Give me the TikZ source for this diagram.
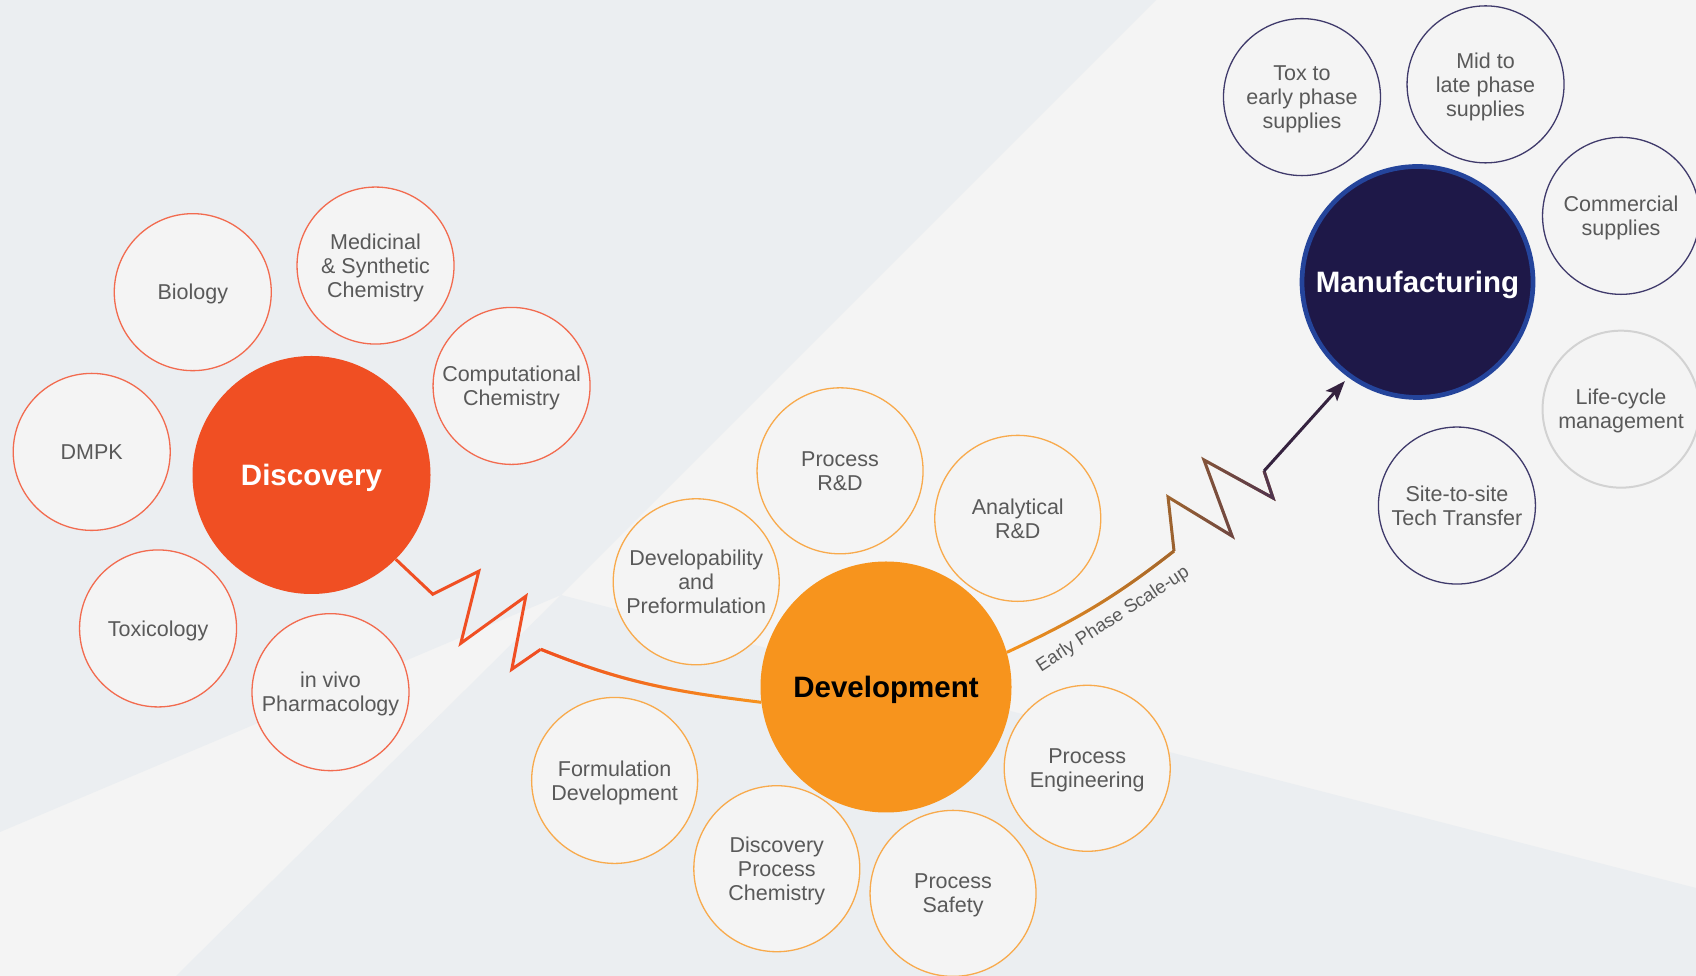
\documentclass[tikz,border=0pt]{standalone}
\usepackage{fontspec}
\setmainfont{Liberation Sans}
\usetikzlibrary{shapes,arrows.meta,calc,fadings}
\definecolor{bgdark}{HTML}{EBEEF1}
\definecolor{bglight}{HTML}{F4F4F4}
\definecolor{discred}{HTML}{F04F23}
\definecolor{discline}{HTML}{F26B4F}
\definecolor{devorange}{HTML}{F7941D}
\definecolor{devline}{HTML}{F8AA4C}
\definecolor{manunavy}{HTML}{1E1848}
\definecolor{manublue}{HTML}{24449B}
\definecolor{manuline}{HTML}{3F3A6B}
\definecolor{lifegrey}{HTML}{D2D2D2}
\definecolor{zigbrown}{HTML}{A0652E}
\definecolor{zigplum}{HTML}{4E3350}
\definecolor{darkplum}{HTML}{35223F}
\definecolor{labelgrey}{HTML}{595959}

\begin{document}
\begin{tikzpicture}[x=1pt,y=1pt,% one unit per pixel of the layout
			every node/.style={
				align=center,		% use this so that the "\\" for line break works
				inner sep=0pt,
				text depth=0pt,		% centre on the baseline, not on the descenders
				font=\fontsize{21.5}{24}\selectfont,
				text=labelgrey
			},
			sat/.style={circle,fill=bglight,line width=1.3pt,minimum size=157pt},
			dsat/.style={sat,draw=discline},
			psat/.style={sat,draw=devline,minimum size=166pt},
			msat/.style={sat,draw=manuline},
			hub/.style={circle,font=\fontsize{29.5}{34}\selectfont\bfseries},
			zig/.style={line width=3pt}
		]
		\useasboundingbox (0,0) rectangle (1696,976);
		\clip (0,0) rectangle (1696,976);
		% background wedges
		\fill[bglight] (0,0) rectangle (1696,976);
		\coordinate (Q) at (561,381);
		\fill[bgdark] (0,976) -- (1156,976) -- (Q) -- (0,144) -- cycle;
		\fill[bgdark] (176,0) -- (Q) -- (1696,88) -- (1696,0) -- cycle;

		% Discovery
		\node[hub,fill=discred,text=white,minimum size=238pt](D0) at (311.5,501){Discovery};
		\node[dsat](D1) at ($(D0)+(123:218)$){Biology};
		\node[dsat](D2) at ($(D0)+(73:219)$){Medicinal \\ \& Synthetic \\ Chemistry};
		\node[dsat](D3) at ($(D0)+(24:219)$){Computational \\ Chemistry};
		\node[dsat](D4) at ($(D0)+(174:221)$){DMPK};
		\node[dsat](D5) at ($(D0)+(225:217)$){Toxicology};
		\node[dsat](D6) at ($(D0)+(275:218)$){in vivo \\ Pharmacology};

		% Development
		\node[hub,fill=devorange,text=black,minimum size=251pt](P0) at (886,289){Development};
		\node[psat](P1) at ($(P0)+(102:221)$){Process \\ R\&D};
		\node[psat](P2) at ($(P0)+(52:214)$){Analytical \\ R\&D};
		\node[psat](P3) at ($(P0)+(151:217)$){Developability \\ and \\ Preformulation};
		\node[psat](P4) at ($(P0)+(199:287)$){Formulation \\ Development};
		\node[psat](P5) at ($(P0)+(239:212)$){Discovery \\ Process \\ Chemistry};
		\node[psat](P6) at ($(P0)+(288:217)$){Process \\ Safety};
		\node[psat](P7) at ($(P0)+(338:217)$){Process \\ Engineering};

		% Manufacturing
		\node[hub,fill=manunavy,draw=manublue,line width=4.7pt,text=white,minimum size=231pt](M0) at (1417.5,694){Manufacturing};
		\node[msat](M1) at ($(M0)+(122:218)$){Tox to \\ early phase \\ supplies};
		\node[msat](M2) at ($(M0)+(71:209)$){Mid to \\ late phase \\ supplies};
		\node[msat](M3) at ($(M0)+(18:214)$){Commercial \\ supplies};
		\node[msat,draw=lifegrey,line width=2pt](M4) at ($(M0)+(328:240)$){Life-cycle \\ management};
		\node[msat](M5) at ($(M0)+(280:227)$){Site-to-site \\ Tech Transfer};

		% Discovery -> Development
		\draw[zig,discred] (D0.-45) -- ++(37,-35) -- ++(46,23) -- ++(-18,-72) -- ++(65,47) -- ++(-14,-73) -- ++(29,20) coordinate (Z1);
		\draw[zig,devorange] (Z1) to[out=-22,in=173] (P0.187);
		\draw[zig,discred,path fading=east] (Z1) to[out=-22,in=173] (P0.187);

		% Development -> Manufacturing
		\coordinate (Z2) at ($(P0)+(288,136)$);
		\draw[zig,devorange] (P0.16) to[out=25,in=218] (Z2);
		\draw[zig,zigbrown,path fading=west] (P0.16) to[out=25,in=218] (Z2);
		\draw[zig,zigbrown] (Z2) -- ++(-6,54) -- ++(64,-39) -- ++(-28,76) -- ++(69,-38) -- ++(-9,27) coordinate (Z3);
		\draw[zig,zigplum,path fading=west] (Z2) -- ++(-6,54) -- ++(64,-39) -- ++(-28,76) -- ++(69,-38) -- ++(-9,27);
		\draw[zig,darkplum,-{Stealth[length=20pt,width=15pt,inset=4pt]},shorten >=5pt] (Z3) -- (M0.234);
		\node[font=\fontsize{18.5}{22}\selectfont,rotate=33](L1) at ($(P0)+(226,69)$){Early Phase Scale-up};
	\end{tikzpicture}
\end{document}
